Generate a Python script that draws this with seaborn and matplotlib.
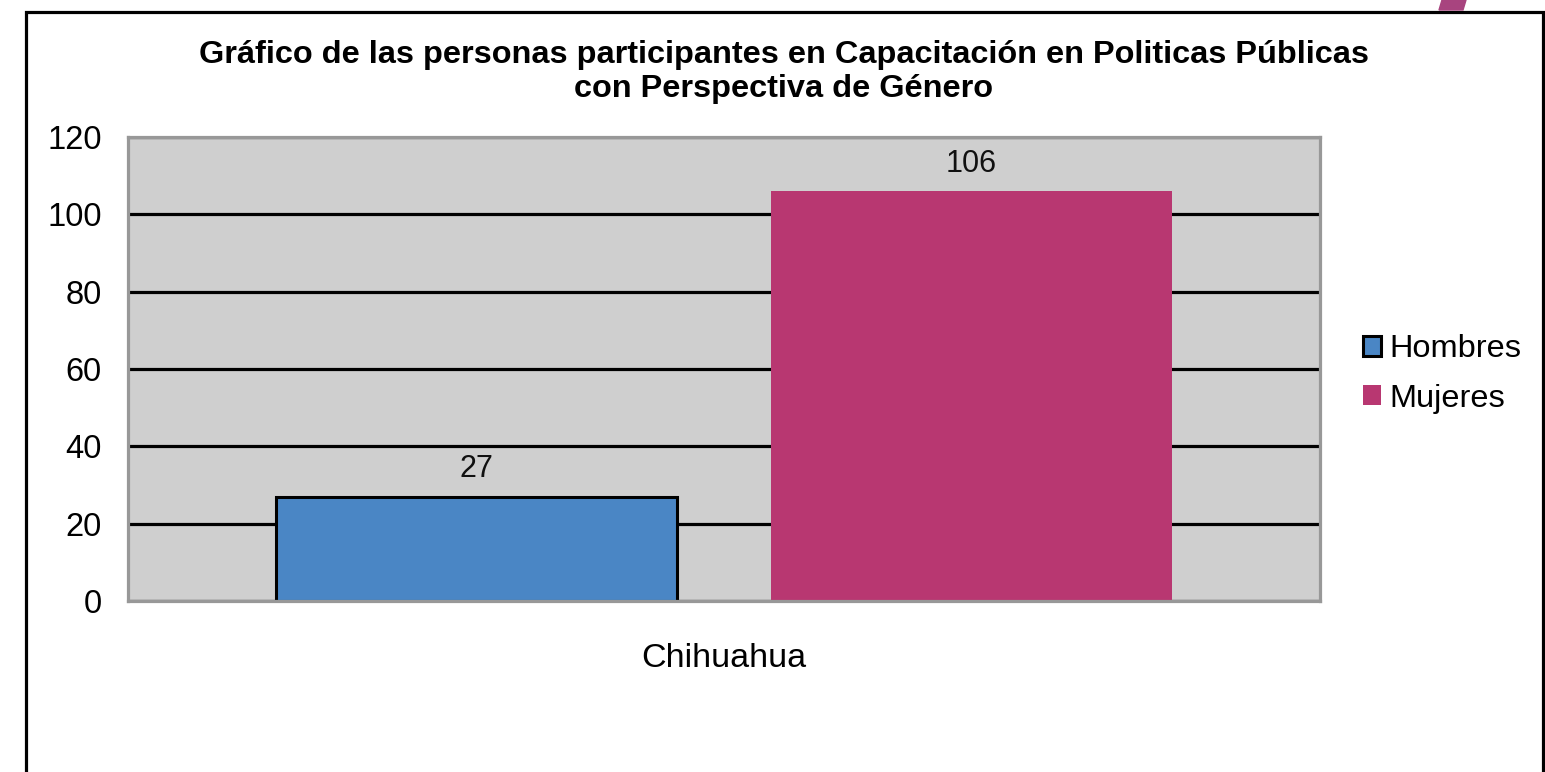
import numpy as np
import pandas as pd
import matplotlib.pyplot as plt
import matplotlib.patches as mpatches
import seaborn as sns

# datos del grafico
estados = ['Chihuahua']
sexos = ['Hombres', 'Mujeres']
valores = [27, 106]
colores = ['#4A86C5', '#B83771']
yticks = [0, 20, 40, 60, 80, 100, 120]
titulo = 'Gráfico de las personas participantes en Capacitación en Politicas Públicas\ncon Perspectiva de Género'

df = pd.DataFrame({'estado': estados * len(sexos), 'sexo': sexos, 'valor': valores})

sns.set_theme(style='white')
plt.rcParams['font.family'] = ['Liberation Sans', 'DejaVu Sans']
plt.rcParams['text.color'] = 'black'

fig = plt.figure(figsize=(15.45, 7.72), dpi=100)
ax = fig.add_axes([128 / 1545, 1 - 601 / 772, 1192 / 1545, 464 / 772])
ax.set_facecolor('#CFCFCF')

sns.barplot(data=df, x='estado', y='valor', hue='sexo', palette=colores,
            width=0.83, gap=0.19, saturation=1, ax=ax, legend=False)

# borde negro solo en Hombres
for p in ax.containers[0]:
    p.set_edgecolor('black')
    p.set_linewidth(2.2)
for p in ax.containers[1]:
    p.set_linewidth(0)

for c in ax.containers:
    ax.bar_label(c, padding=9, fontsize=22, color='#111111')

ax.set_ylim(0, 120)
ax.set_xlim(-0.5, 0.5)
ax.set_yticks(yticks)
ax.yaxis.grid(True, color='black', linewidth=2.3)
ax.set_axisbelow(True)
ax.tick_params(axis='y', length=0, pad=19, labelsize=23.5, labelcolor='black')
ax.tick_params(axis='x', length=0, pad=30, labelsize=24.5, labelcolor='black')
ax.set_xlabel('')
ax.set_ylabel('')
for s in ax.spines.values():
    s.set_color('#989898')
    s.set_linewidth(2.3)

fig.text(784 / 1545, 1 - 72 / 772, titulo, ha='center', va='center', color='black',
         fontsize=23.4, fontweight='bold', linespacing=1.15)

handles = [mpatches.Patch(facecolor=colores[0], edgecolor='black', linewidth=2.2),
           mpatches.Patch(facecolor=colores[1], edgecolor='none')]
fig.legend(handles, sexos, loc='center left', bbox_to_anchor=(1363 / 1545, 1 - 374 / 772),
           frameon=False, fontsize=23.4, handlelength=0.55, handleheight=0.55,
           handletextpad=0.25, labelspacing=0.6, borderpad=0, borderaxespad=0,
           labelcolor='black')

# marco exterior
fig.add_artist(mpatches.Rectangle((26 / 1545, -0.05), 1517 / 1545, 1.05 - 12 / 772,
                                  transform=fig.transFigure, fill=False,
                                  edgecolor='black', linewidth=2.3))
# adorno morado arriba a la derecha
fig.add_artist(mpatches.Polygon([(1442 / 1545, 1.0), (1466 / 1545, 1.0),
                                 (1463 / 1545, 1 - 10 / 772), (1439 / 1545, 1 - 10 / 772)],
                                transform=fig.transFigure, color='#A8447F'))

fig.savefig('out.png', dpi=100)
